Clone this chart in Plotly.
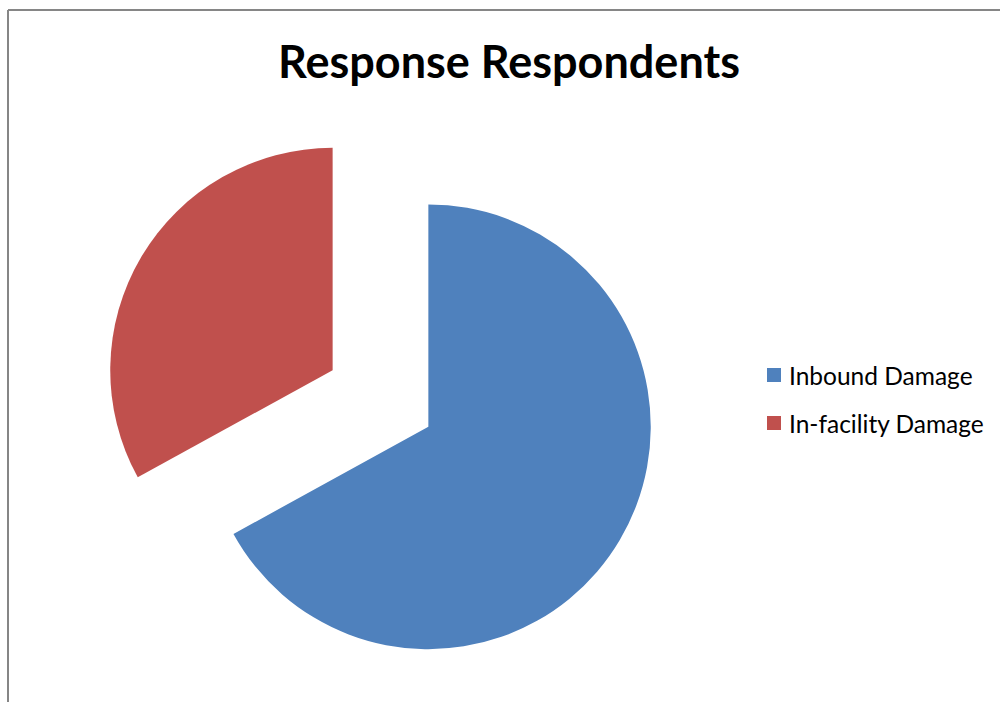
import plotly.graph_objects as go

labels = ["Inbound Damage", "In-facility Damage"]
values = [67, 33]
colors = ["#4F81BD", "#C0504D"]
title_text = "Response Respondents"

W, H = 1000, 702
fig = go.Figure()
fig.add_trace(go.Pie(
    labels=labels, values=values, sort=False, direction="clockwise", rotation=0,
    pull=[0.25, 0.25], marker=dict(colors=colors, line=dict(width=0)),
    textinfo="none", hoverinfo="label+value+percent",
    domain=dict(x=[0.1025, 0.6585], y=[0.0363, 0.8284]),
    showlegend=False,
))

shapes = [dict(type="line", xref="paper", yref="paper", x0=8/W, x1=1.2, y0=1-10/H, y1=1-10/H,
               line=dict(color="#868686", width=2)),
          dict(type="line", xref="paper", yref="paper", x0=8/W, x1=8/W, y0=1-10/H, y1=-0.2,
               line=dict(color="#868686", width=2))]
annotations = []
leg_y = [375, 423]
for lab, col, yy in zip(labels, colors, leg_y):
    shapes.append(dict(type="rect", xref="paper", yref="paper",
                       x0=767/W, x1=781/W, y0=1-(yy+7)/H, y1=1-(yy-7)/H,
                       fillcolor=col, line=dict(width=0)))
    annotations.append(dict(text=lab, xref="paper", yref="paper", x=787/W, y=1-yy/H,
                            xanchor="left", yanchor="middle", showarrow=False,
                            font=dict(family="Lato", size=24.5, color="#000000")))

fig.update_layout(
    width=W, height=H, margin=dict(l=0, r=0, t=0, b=0),
    paper_bgcolor="white", plot_bgcolor="white",
    title=dict(text="<b>" + title_text + "</b>", x=509/W, xanchor="center", y=1-62/H, yanchor="middle",
               font=dict(family="Lato", size=45, color="#000000")),
    shapes=shapes, annotations=annotations,
)
fig.write_html("out.html")
